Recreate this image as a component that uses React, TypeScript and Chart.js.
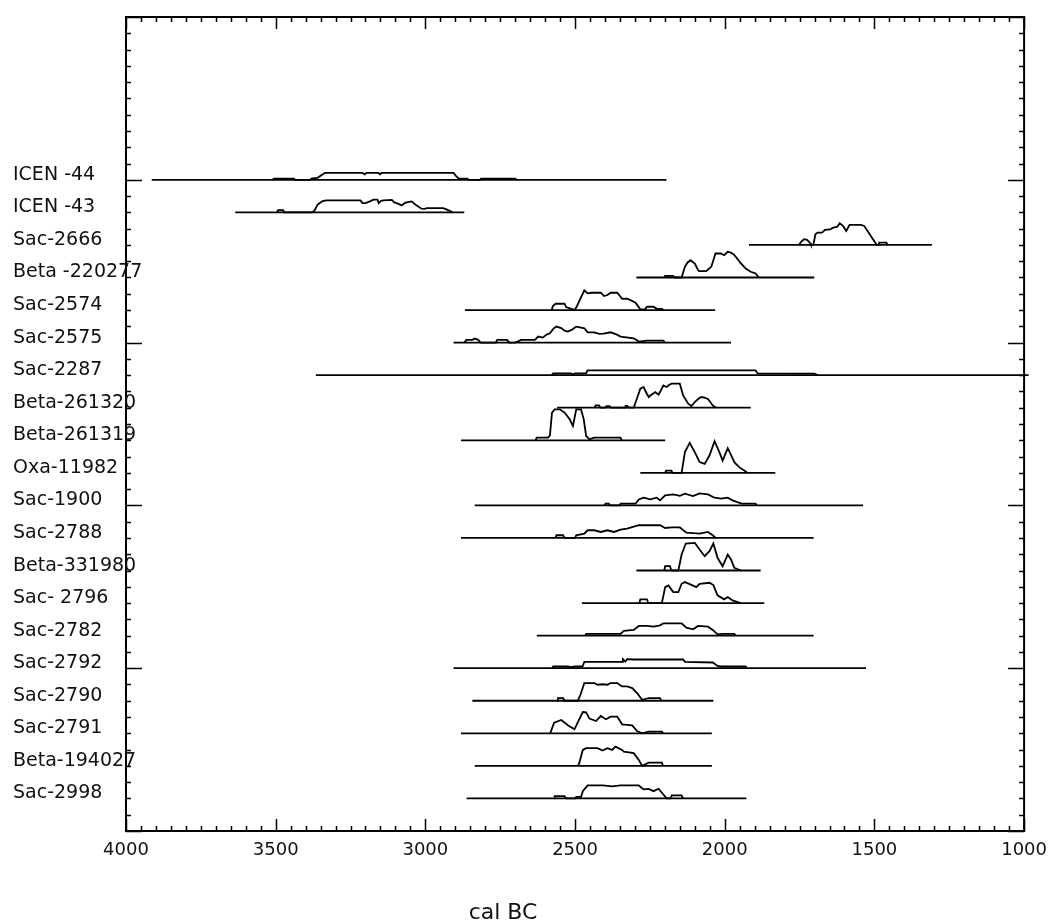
import { useEffect, useRef } from 'react';
import { Chart, registerables } from 'chart.js';

Chart.register(...registerables);

// ---------- data ----------
const sampleLabels = [
  'ICEN -44', 'ICEN -43', 'Sac-2666', 'Beta -220277', 'Sac-2574', 'Sac-2575', 'Sac-2287',
  'Beta-261320', 'Beta-261319', 'Oxa-11982', 'Sac-1900', 'Sac-2788', 'Beta-331980',
  'Sac- 2796', 'Sac-2782', 'Sac-2792', 'Sac-2790', 'Sac-2791', 'Beta-194027', 'Sac-2998',
];

// extent of each calibrated range (cal BC)
const rangeStart = [3914, 3635, 1919, 2295, 2868, 2906, 3366, 2560, 2881, 2282, 2835, 2881, 2295, 2477, 2628, 2906, 2843, 2881, 2835, 2862];
const rangeEnd = [2195, 2870, 1308, 1701, 2032, 1979, 985, 1913, 2199, 1831, 1538, 1703, 1880, 1868, 1703, 1528, 2038, 2043, 2043, 1928];

// relative probability [cal BC, probability]
const probICEN44 = [[3510, 0], [3505, 1.2], [3440, 1.2], [3435, 0], [3385, 0], [3378, 1.5], [3360, 2], [3345, 5], [3335, 7], [3210, 7], [3203, 5.5], [3196, 7], [3158, 7], [3152, 5.5], [3146, 7], [2906, 7], [2898, 4], [2888, 1.2], [2860, 1.2], [2855, 0], [2818, 0], [2814, 1.2], [2700, 1.2], [2695, 0]];
const probICEN43 = [[3495, 0], [3492, 2.3], [3475, 2.3], [3472, 0], [3378, 0], [3370, 2], [3360, 7.7], [3345, 11], [3332, 12], [3217, 12], [3210, 9.3], [3200, 9.3], [3189, 10.5], [3173, 12.7], [3160, 12.7], [3156, 9.3], [3148, 11.5], [3140, 12], [3112, 12.5], [3104, 10], [3096, 9.3], [3079, 7], [3070, 9], [3063, 10], [3046, 11], [3038, 9], [3030, 7], [3020, 5], [3013, 3.7], [3002, 3.5], [2995, 4.3], [2940, 4.3], [2930, 3], [2920, 1.7], [2909, 0]];
const probSac2666 = [[1752, 0], [1745, 3], [1735, 5.7], [1725, 5], [1715, 2], [1712, 0], [1704, 0], [1697, 10.7], [1690, 12.3], [1675, 12.3], [1665, 15], [1648, 15.5], [1638, 17.3], [1625, 18], [1616, 21.7], [1605, 19], [1594, 14], [1585, 19], [1583, 20], [1545, 20], [1534, 19], [1523, 14], [1512, 9], [1501, 4], [1492, 0], [1486, 0], [1484, 2.3], [1460, 2.3], [1456, 0]];
const probBeta220277 = [[2202, 0], [2199, 1.7], [2172, 1.7], [2168, 0], [2144, 0], [2133, 10.7], [2124, 15], [2114, 17.3], [2100, 14], [2090, 8], [2086, 6.3], [2062, 6.3], [2045, 10.7], [2035, 20], [2031, 24], [2013, 24], [2002, 22.3], [1990, 25.7], [1980, 25], [1970, 23], [1963, 20.7], [1946, 14], [1930, 9], [1913, 5.7], [1897, 4], [1886, 0]];
const probSac2574 = [[2578, 0], [2574, 4], [2565, 6.3], [2535, 6.3], [2530, 3], [2510, 1], [2502, 0], [2495, 3], [2486, 9], [2475, 16], [2469, 19.7], [2458, 16.7], [2445, 17.3], [2414, 17.3], [2403, 14], [2392, 15], [2381, 17.3], [2359, 17.3], [2350, 14], [2343, 11.3], [2326, 11.3], [2315, 10], [2298, 7.3], [2282, 0.7], [2265, 1], [2260, 3.3], [2238, 3.3], [2227, 1.2], [2210, 1.2], [2205, 0]];
const probSac2575 = [[2870, 0], [2863, 2.7], [2843, 2.7], [2835, 4], [2825, 3], [2815, 0], [2765, 0], [2760, 2.7], [2727, 2.7], [2720, 0], [2700, 0], [2680, 2.7], [2634, 2.7], [2623, 6], [2608, 5], [2595, 8], [2584, 9.3], [2572, 14], [2562, 16], [2546, 14.5], [2535, 12], [2524, 11], [2510, 13], [2496, 16], [2480, 15], [2469, 14.3], [2458, 10.3], [2436, 10.3], [2419, 8.7], [2405, 9], [2381, 10.3], [2360, 8], [2348, 6], [2304, 4.3], [2287, 1], [2260, 2], [2205, 2], [2200, 0]];
const probSac2287 = [[2578, 0], [2573, 1.7], [2513, 1.7], [2508, 0.5], [2502, 1.7], [2463, 1.7], [2458, 4.7], [1897, 4.7], [1890, 1.7], [1700, 1.5], [1690, 0]];
const probBeta261320 = [[2435, 0], [2431, 2.3], [2420, 2.3], [2415, 0], [2400, 0], [2395, 1.5], [2385, 1.5], [2380, 0], [2333, 0], [2331, 1.8], [2326, 1.8], [2320, 0], [2304, 0], [2290, 12], [2282, 19], [2271, 20.7], [2262, 15], [2254, 10.7], [2245, 13], [2232, 15.7], [2221, 13], [2212, 18], [2205, 22.3], [2194, 20.7], [2185, 23], [2177, 24], [2150, 24], [2139, 12.3], [2122, 4], [2111, 1.7], [2100, 5.7], [2088, 9], [2079, 10.7], [2068, 10], [2056, 8.7], [2040, 2.3], [2029, 0]];
const probBeta261319 = [[2632, 0], [2628, 2.7], [2590, 2.7], [2584, 5], [2577, 27.7], [2568, 31], [2551, 31], [2535, 27.7], [2518, 21], [2507, 14.3], [2496, 31], [2480, 31], [2471, 21], [2463, 4.3], [2452, 1], [2436, 2.7], [2348, 2.7], [2344, 0]];
const probOxa11982 = [[2199, 0], [2196, 2.3], [2178, 2.3], [2175, 0], [2144, 0], [2133, 20.7], [2117, 30], [2100, 20.7], [2084, 10.7], [2067, 9], [2051, 17.3], [2034, 31.7], [2018, 20.7], [2007, 12.3], [1990, 24.7], [1979, 18], [1968, 10.7], [1952, 5.7], [1930, 1.3], [1925, 0]];
const probSac1900 = [[2402, 0], [2398, 1.7], [2387, 1.7], [2383, 0], [2350, 0], [2348, 1.7], [2298, 1.7], [2287, 6], [2271, 7.7], [2249, 6], [2227, 7.7], [2216, 5], [2199, 10], [2172, 11], [2150, 9.5], [2133, 11.7], [2106, 9.3], [2084, 12], [2056, 11], [2034, 7.7], [2012, 6.7], [1990, 7.7], [1974, 5], [1946, 2], [1941, 1.7], [1897, 1.7], [1893, 0]];
const probSac2788 = [[2565, 0], [2562, 2.7], [2540, 2.7], [2535, 0], [2500, 0], [2496, 2.7], [2469, 4.3], [2458, 7.7], [2436, 7.7], [2414, 6], [2392, 7.7], [2370, 6], [2348, 8.3], [2326, 9.3], [2287, 12.7], [2216, 12.7], [2199, 10], [2177, 10.5], [2150, 10.5], [2128, 5.3], [2084, 4.3], [2056, 6], [2040, 2.7], [2030, 0]];
const probBeta331980 = [[2202, 0], [2199, 4.3], [2183, 4.3], [2178, 0], [2155, 0], [2144, 16], [2130, 27], [2100, 27.7], [2084, 21], [2067, 14.3], [2051, 19.3], [2038, 27], [2024, 12.7], [2007, 4.3], [1990, 16], [1979, 11], [1968, 2.7], [1946, 0]];
const probSac2796 = [[2285, 0], [2282, 3.7], [2260, 3.7], [2255, 0], [2210, 0], [2199, 16], [2188, 17.7], [2172, 11], [2155, 11], [2144, 19.3], [2133, 21], [2117, 19], [2095, 16], [2084, 19.3], [2051, 20.3], [2038, 18], [2024, 7.7], [2002, 3.7], [1990, 6], [1974, 2.7], [1946, 0]];
const probSac2782 = [[2466, 0], [2463, 1.7], [2348, 1.7], [2337, 4.7], [2304, 5.7], [2287, 9.7], [2260, 9.7], [2238, 9], [2216, 10.3], [2205, 12.3], [2144, 12.3], [2128, 8], [2106, 6.3], [2089, 9.7], [2056, 9], [2040, 5.7], [2024, 1.3], [2007, 1.7], [1968, 1.7], [1964, 0]];
const probSac2792 = [[2576, 0], [2573, 1.7], [2524, 1.7], [2515, 1], [2500, 1.7], [2475, 1.7], [2469, 6.3], [2343, 6.3], [2340, 9], [2332, 6.5], [2326, 9], [2304, 8.7], [2139, 8.7], [2133, 6.3], [2040, 5.7], [2024, 2.3], [2012, 1.7], [1930, 1.7], [1926, 0]];
const probSac2790 = [[2560, 0], [2557, 2.7], [2540, 2.7], [2535, 0], [2491, 0], [2482, 6], [2469, 17.7], [2436, 17.7], [2425, 16], [2408, 16.5], [2392, 16], [2381, 17.7], [2359, 17.7], [2343, 14.3], [2326, 14.3], [2309, 12.7], [2293, 7.7], [2276, 1], [2254, 2.7], [2216, 2.7], [2212, 0]];
const probSac2791 = [[2583, 0], [2570, 10.7], [2546, 13.3], [2524, 8], [2502, 4], [2486, 14], [2474, 21.3], [2463, 21], [2452, 14.7], [2430, 12.3], [2414, 17.3], [2397, 14], [2381, 16.7], [2359, 16.7], [2343, 9], [2309, 8], [2293, 2.3], [2276, 0], [2254, 1.7], [2210, 1.7], [2206, 0]];
const probBeta194027 = [[2490, 0], [2486, 2.7], [2474, 16], [2463, 17.7], [2425, 17.7], [2408, 15.3], [2392, 17.7], [2376, 16], [2365, 19.3], [2343, 16], [2337, 14.3], [2304, 12.7], [2287, 6], [2276, 0], [2254, 3.3], [2210, 3.3], [2206, 0]];
const probSac2998 = [[2570, 0], [2568, 2.3], [2535, 2.3], [2530, 0], [2498, 0], [2496, 1.5], [2480, 1.5], [2474, 7.3], [2458, 13], [2408, 13], [2376, 12], [2348, 13], [2287, 13], [2271, 9], [2254, 9.5], [2238, 7.3], [2221, 9.7], [2210, 5.7], [2194, 0], [2180, 0], [2177, 3], [2144, 3], [2140, 0]];

const probCurves = [
  probICEN44, probICEN43, probSac2666, probBeta220277, probSac2574, probSac2575, probSac2287,
  probBeta261320, probBeta261319, probOxa11982, probSac1900, probSac2788, probBeta331980,
  probSac2796, probSac2782, probSac2792, probSac2790, probSac2791, probBeta194027, probSac2998,
];

const xTickValues = [4000, 3500, 3000, 2500, 2000, 1500, 1000];
const xAxisTitle = 'cal BC';

// ---------- presentation constants ----------
const X_MIN = 1000;
const X_MAX = 4000;
const X_MINOR = 50;
const X_MAJOR = 500;
const Y_MIN = -5;
const Y_MAX = 20;
const Y_MINOR = 0.5;
const Y_MAJOR = 5;
const PROB_TO_ROW = 1 / 32.56; // probability unit -> row units
const FONT = '"DejaVu Sans", Verdana, sans-serif';

const framePlugin = {
  id: 'oxcalFrame',
  afterDatasetsDraw(chart: any) {
    const { ctx, chartArea: a, scales } = chart;
    const xs = scales.x;
    const ys = scales.y;
    ctx.save();
    ctx.strokeStyle = '#000';
    ctx.lineWidth = 1.5;
    ctx.beginPath();
    for (let v = X_MIN; v <= X_MAX; v += X_MINOR) {
      const px = Math.round(xs.getPixelForValue(v)) + 0.5;
      const len = v % X_MAJOR === 0 ? 12 : 5;
      ctx.moveTo(px, a.bottom);
      ctx.lineTo(px, a.bottom - len);
      ctx.moveTo(px, a.top);
      ctx.lineTo(px, a.top + len);
    }
    for (let r = Y_MIN; r <= Y_MAX; r += Y_MINOR) {
      const py = Math.round(ys.getPixelForValue(r)) + 0.5;
      const len = r % Y_MAJOR === 0 ? 16 : 5;
      ctx.moveTo(a.left, py);
      ctx.lineTo(a.left + len, py);
      ctx.moveTo(a.right, py);
      ctx.lineTo(a.right - len, py);
    }
    ctx.stroke();
    ctx.lineWidth = 2;
    ctx.strokeRect(a.left, a.top, a.right - a.left, a.bottom - a.top);

    // sample labels
    ctx.fillStyle = '#111';
    ctx.font = `19px ${FONT}`;
    ctx.textAlign = 'left';
    ctx.textBaseline = 'alphabetic';
    sampleLabels.forEach((name, i) => {
      ctx.fillText(name, 13, ys.getPixelForValue(i));
    });

    // axis caption
    ctx.font = `22px ${FONT}`;
    ctx.textAlign = 'center';
    ctx.fillText(xAxisTitle, 503, 919);
    ctx.restore();
  },
};

export default function App() {
  const canvasRef = useRef<HTMLCanvasElement | null>(null);

  useEffect(() => {
    const canvas = canvasRef.current;
    if (!canvas) return;
    const lineStyle = {
      showLine: true,
      pointRadius: 0,
      pointHoverRadius: 0,
      borderColor: '#000',
      borderWidth: 1.8,
      fill: false,
      tension: 0,
      clip: false as const,
    };
    const datasets: any[] = [];
    sampleLabels.forEach((name, i) => {
      datasets.push({
        ...lineStyle,
        label: `${name} range`,
        data: [{ x: rangeStart[i], y: i }, { x: rangeEnd[i], y: i }],
      });
      datasets.push({
        ...lineStyle,
        label: name,
        data: probCurves[i].map(([yr, p]) => ({ x: yr, y: i - p * PROB_TO_ROW })),
      });
    });

    const chart = new Chart(canvas, {
      type: 'scatter',
      data: { datasets },
      options: {
        responsive: false,
        maintainAspectRatio: false,
        devicePixelRatio: 1,
        animation: false,
        events: [],
        layout: { padding: { left: 126, right: 21, top: 17, bottom: 0 } },
        plugins: { legend: { display: false }, tooltip: { enabled: false } },
        scales: {
          x: {
            type: 'linear',
            min: X_MIN,
            max: X_MAX,
            reverse: true,
            grid: { display: false, drawTicks: false },
            border: { display: false },
            afterBuildTicks: (scale: any) => {
              scale.ticks = xTickValues.map((v) => ({ value: v }));
            },
            afterFit: (scale: any) => {
              scale.height = 91;
            },
            ticks: {
              autoSkip: false,
              maxRotation: 0,
              padding: 9,
              color: '#111',
              font: { family: FONT, size: 18 },
              callback: (v: any) => String(v),
            },
          },
          y: {
            type: 'linear',
            min: Y_MIN,
            max: Y_MAX,
            reverse: true,
            display: false,
          },
        },
      },
      plugins: [framePlugin],
    });
    return () => chart.destroy();
  }, []);

  return (
    <div style={{ position: 'fixed', left: 0, top: 0, width: 1056, height: 922, background: '#fff' }}>
      <canvas ref={canvasRef} width={1056} height={922} style={{ display: 'block' }} />
    </div>
  );
}
